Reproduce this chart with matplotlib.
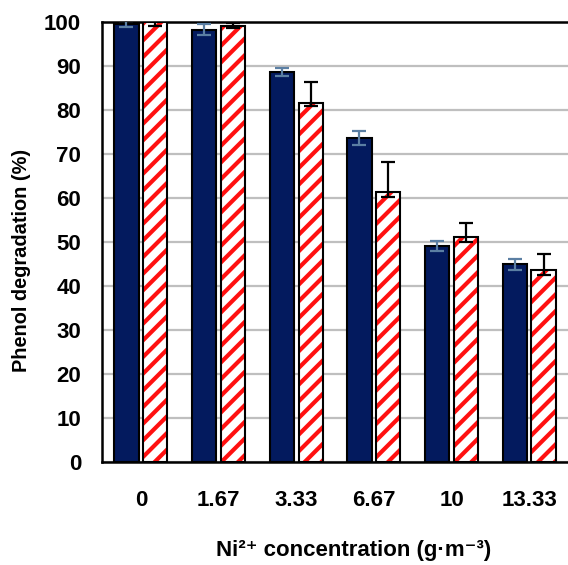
import matplotlib
matplotlib.use("Agg")
import matplotlib.pyplot as plt
import numpy as np

plt.rcParams['font.family'] = ['Liberation Sans', 'DejaVu Sans']
plt.rcParams['hatch.linewidth'] = 3.0

categories = ["0", "1.67", "3.33", "6.67", "10", "13.33"]
dark_vals = [99.6, 98.3, 88.7, 73.7, 49.1, 44.9]
dark_err = [0.7, 1.3, 0.9, 1.6, 1.2, 1.2]
red_vals = [99.9, 99.2, 81.7, 61.3, 51.1, 43.6]
red_err_lo = [0.8, 0.5, 0.7, 1.0, 1.1, 1.1]
red_err_hi = [0.8, 0.5, 4.6, 6.9, 3.2, 3.6]
yticks = [0, 10, 20, 30, 40, 50, 60, 70, 80, 90, 100]

fig = plt.figure(figsize=(5.68, 5.65), dpi=100)
ax = fig.add_axes([0.1796, 0.1823, 0.8204, 0.7787])

x = np.arange(len(categories))
w = 0.31
off = 0.185

ax.bar(x - off, dark_vals, w, color='#031a5e', edgecolor='black', linewidth=1.5, zorder=3)
ax.errorbar(x - off, dark_vals, yerr=dark_err, fmt='none', ecolor='#5b7fa3',
            elinewidth=1.6, capsize=5, capthick=1.6, zorder=4)

ax.bar(x + off, red_vals, w, color='white', edgecolor='#ff1010', hatch='//',
       linewidth=0, zorder=3)
ax.bar(x + off, red_vals, w, color='none', edgecolor='black', linewidth=1.5, zorder=3.5)
ax.errorbar(x + off, red_vals, yerr=[red_err_lo, red_err_hi], fmt='none', ecolor='black',
            elinewidth=1.6, capsize=5, capthick=1.6, zorder=4)

ax.set_xlim(-0.5, 5.5)
ax.set_ylim(0, 100)
ax.set_yticks(yticks)
ax.set_yticklabels([str(v) for v in yticks], fontsize=16, fontweight='bold')
ax.set_xticks(x)
ax.set_xticklabels(categories, fontsize=16, fontweight='bold')
ax.tick_params(axis='both', length=0)
ax.tick_params(axis='y', pad=15)
ax.tick_params(axis='x', pad=20)

ax.grid(axis='y', color='#bfbfbf', linewidth=1.6, zorder=0)
ax.set_axisbelow(True)
for s in ['left', 'top', 'bottom']:
    ax.spines[s].set_linewidth(1.8)
    ax.spines[s].set_color('black')
ax.spines['right'].set_visible(False)

ax.set_ylabel('Phenol degradation (%)', fontsize=14.4, fontweight='bold')
ax.yaxis.set_label_coords(-0.152, 0.457)
ax.set_xlabel('Ni²⁺ concentration (g·m⁻³)', fontsize=16, fontweight='bold')
ax.xaxis.set_label_coords(0.541, -0.177)

fig.savefig('out.png', dpi=100)
